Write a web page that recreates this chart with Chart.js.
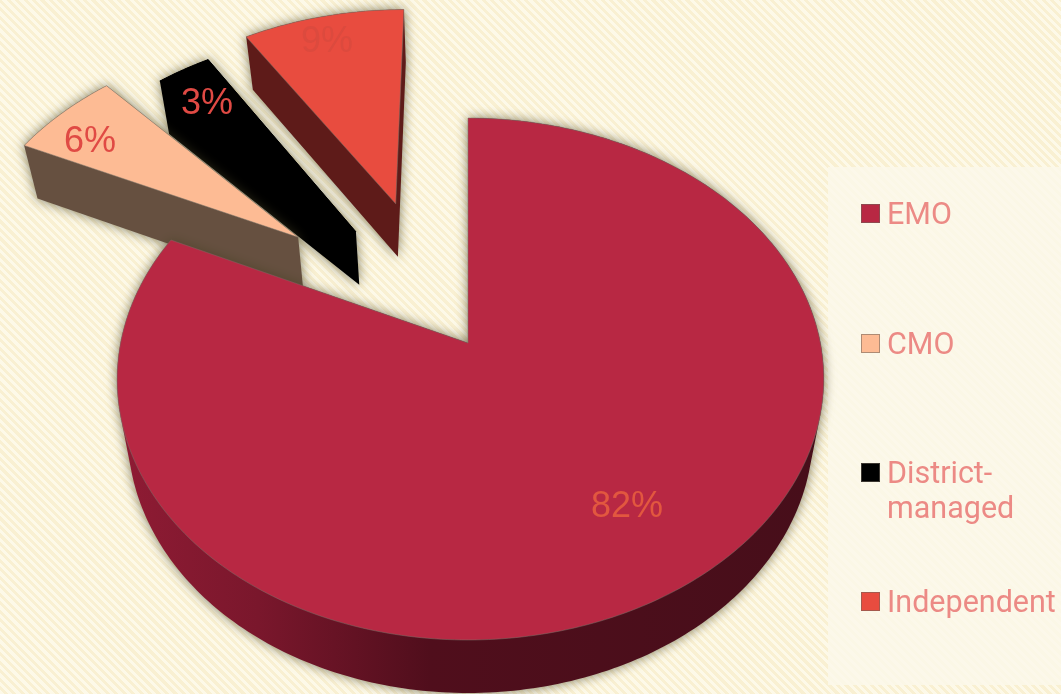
<!DOCTYPE html>
<html>
<head>
<meta charset="utf-8">
<title>Management type</title>
<script src="https://cdn.jsdelivr.net/npm/chart.js@4/dist/chart.umd.min.js"></script>
<style>
    html, body { margin: 0; padding: 0; }
    body {
        width: 1061px;
        height: 694px;
        overflow: hidden;
        position: relative;
        background: repeating-linear-gradient(45deg, #fdf9e8 0, #fdf9e8 3px, #f9f0d2 3px, #f9f0d2 6px);
    }
    #legendPanel {
        position: absolute;
        left: 828px;
        top: 167px;
        width: 233px;
        height: 518px;
        background: rgba(252, 248, 234, 0.85);
    }
    #pieChart { position: absolute; left: 0; top: 0; }
    .legend-item {
        position: absolute;
        left: 861px;
        width: 198px;
        font: 30.5px/35px Roboto, sans-serif;
        color: #ec8a85;
    }
    .legend-item i {
        position: absolute;
        left: 0;
        top: 8px;
        width: 17px;
        height: 17px;
        border: 1px solid rgba(110, 100, 90, 0.55);
    }
    .legend-item span { display: block; margin-left: 26px; }
</style>
</head>
<body>
<div id="legendPanel"></div>
<canvas id="pieChart" width="1061" height="694"></canvas>

<script>
const categories = ['EMO', 'CMO', 'District-managed', 'Independent'];
const shares = [82, 6, 3, 9];
const faceColors = ['#b82843', '#fdbb94', '#000000', '#e84c3f'];
const wallColors = [null, '#665040', '#000000', '#5e1b19'];
const labelColors = ['#e2573f', '#e04a44', '#e04a44', '#dc4a3e'];
// how far each slice is pulled out, and the small turn of its pull direction
const explodeOffsets = [0, 173, 147, 161];
const explodeTurns = [0, 4.4, 1.4, -4.6];
const labelCenters = [[627, 507], [90, 142], [207, 104], [327, 42]];
const legendTops = [196, 326, 455, 584];

const PIE_RADIUS = 256;
const WIDTH_RATIO = 1.367;
const PERSPECTIVE = 0.138;
const WALL_DEPTH = 53;
const WALL_TAPER = 0.03;
const RIM_BEND = 2.5;

// disc coordinates (u right, v away from the viewer) to canvas pixels
function project(el, u, v) {
    const s = 1 / (1 + PERSPECTIVE * v);
    return [el.x + el.outerRadius * WIDTH_RATIO * u * s, el.y - el.outerRadius * v * s];
}

function sliceOutline(el, index) {
    const mid = (el.startAngle + el.endAngle) / 2 + Math.PI / 2 + explodeTurns[index] * Math.PI / 180;
    const pull = el.options.offset / el.outerRadius;
    const du = Math.sin(mid) * pull;
    const dv = Math.cos(mid) * pull;
    const steps = Math.ceil((el.endAngle - el.startAngle) * 60);
    const pts = [project(el, du, dv)];
    for (let i = 0; i <= steps; i++) {
        const a = el.startAngle + (el.endAngle - el.startAngle) * i / steps + Math.PI / 2;
        const p = project(el, Math.sin(a) + du, Math.cos(a) + dv);
        // the rim of the slice left in place sits a touch right of its apex
        if (pull === 0) {
            p[0] += RIM_BEND * Math.sin(a) * Math.sin(a);
        }
        pts.push(p);
    }
    return pts;
}

function dropPoint(el, p) {
    return [p[0] + (el.x - p[0]) * WALL_TAPER, p[1] + WALL_DEPTH];
}

// every polygon is added with the same winding so the nonzero fill never leaves holes
function addPolygon(ctx, pts) {
    let area = 0;
    pts.forEach((p, i) => {
        const q = pts[(i + 1) % pts.length];
        area += p[0] * q[1] - q[0] * p[1];
    });
    const ordered = area < 0 ? pts.slice().reverse() : pts;
    ctx.moveTo(ordered[0][0], ordered[0][1]);
    ordered.slice(1).forEach(p => ctx.lineTo(p[0], p[1]));
    ctx.closePath();
}

function drawSlice(ctx, el, index) {
    const top = sliceOutline(el, index);
    const bottom = top.map(p => dropPoint(el, p));

    let wallFill = wallColors[index];
    if (!wallFill) {
        wallFill = ctx.createLinearGradient(120, 0, 810, 0);
        wallFill.addColorStop(0, '#8f1b34');
        wallFill.addColorStop(0.2, '#7a172c');
        wallFill.addColorStop(0.45, '#500e1c');
        wallFill.addColorStop(1, '#470e1a');
    }

    ctx.save();
    ctx.shadowColor = 'rgba(70, 65, 35, 0.7)';
    ctx.shadowBlur = 12;
    ctx.fillStyle = wallFill;
    ctx.beginPath();
    addPolygon(ctx, top);
    addPolygon(ctx, bottom);
    top.forEach((p, i) => {
        const j = (i + 1) % top.length;
        addPolygon(ctx, [p, top[j], bottom[j], bottom[i]]);
    });
    ctx.fill();
    ctx.restore();

    ctx.fillStyle = faceColors[index];
    ctx.strokeStyle = index === 2 ? faceColors[2] : 'rgba(120, 115, 105, 0.5)';
    ctx.lineWidth = 1;
    ctx.beginPath();
    addPolygon(ctx, top);
    ctx.fill();
    ctx.stroke();
}

const tiltedPie = {
    id: 'tiltedPie',
    beforeDatasetDraw(chart, args) {
        const ctx = chart.ctx;
        const arcs = args.meta.data;
        // back slices first, the big slice covers the wall of its neighbour
        for (let i = arcs.length - 1; i >= 0; i--) {
            drawSlice(ctx, arcs[i], i);
        }
        ctx.font = '36px "Liberation Sans", sans-serif';
        ctx.textAlign = 'center';
        ctx.textBaseline = 'middle';
        shares.forEach((share, i) => {
            ctx.fillStyle = labelColors[i];
            ctx.fillText(share + '%', labelCenters[i][0], labelCenters[i][1]);
        });
        return false;
    }
};

new Chart(document.getElementById('pieChart').getContext('2d'), {
    type: 'pie',
    plugins: [tiltedPie],
    data: {
        labels: categories,
        datasets: [{
            data: shares,
            backgroundColor: faceColors,
            offset: explodeOffsets,
            borderWidth: 0
        }]
    },
    options: {
        responsive: false,
        animation: false,
        radius: PIE_RADIUS,
        layout: { padding: { right: 125, bottom: 8 } },
        plugins: {
            legend: { display: false },
            tooltip: { enabled: false }
        }
    }
});

categories.forEach((name, i) => {
    const item = document.createElement('div');
    item.className = 'legend-item';
    item.style.top = legendTops[i] + 'px';
    item.innerHTML = `<i style="background:${faceColors[i]}"></i><span>${name}</span>`;
    document.body.appendChild(item);
});
</script>
</body>
</html>
